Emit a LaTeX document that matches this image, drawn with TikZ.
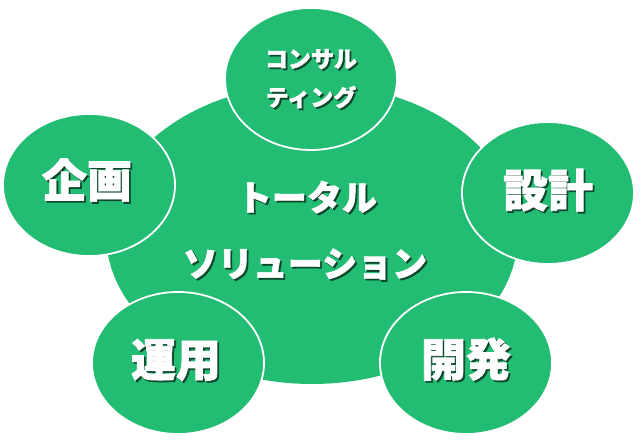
\documentclass[tikz,border=0pt]{standalone}
\usepackage{fontspec}
\newfontfamily\jp{Noto Sans CJK JP}[BoldFeatures={FakeBold=1.6}]
\usetikzlibrary{shapes.geometric}
\definecolor{leaf}{RGB}{34,189,115}
\colorlet{shadowc}{black!62!leaf}
\tikzset{
  bigbub/.style={ellipse, fill=leaf, inner sep=0pt, minimum width=412pt, minimum height=300pt},
  bub/.style={ellipse, fill=leaf, draw=white, line width=1.8pt, inner sep=0pt, minimum width=172pt, minimum height=142pt},
  lbl/.style={text=white, inner sep=0pt, font=\jp\bfseries\fontsize{#1}{#1}\selectfont}
}
\newcommand{\shtxt}[1]{\makebox[0pt][l]{\hspace{1.8pt}\raisebox{-1.8pt}{\textcolor{shadowc}{#1}}}#1}
\begin{document}
\begin{tikzpicture}[x=1pt,y=-1pt]
\useasboundingbox (0,0) rectangle (643,441);
\node[bigbub] (core) at (312,234) {};
\node[bub] (consult) at (311,79) {};
\node[bub] (plan) at (89,185) {};
\node[bub] (design) at (548,193) {};
\node[bub] (ops) at (178,363) {};
\node[bub] (dev) at (466,363) {};
\node[lbl=35] (t1) at (307,198) {\shtxt{トータル}};
\node[lbl=35] (t2) at (305,265) {\shtxt{ソリューション}};
\node[lbl=23] (c1) at (311,60) {\shtxt{コンサル}};
\node[lbl=23] (c2) at (311,98) {\shtxt{ティング}};
\node[lbl=45] (p1) at (87,181) {\shtxt{企画}};
\node[lbl=45] (d1) at (548,191) {\shtxt{設計}};
\node[lbl=45] (o1) at (176,361) {\shtxt{運用}};
\node[lbl=45] (v1) at (466,360) {\shtxt{開発}};
\end{tikzpicture}
\end{document}
